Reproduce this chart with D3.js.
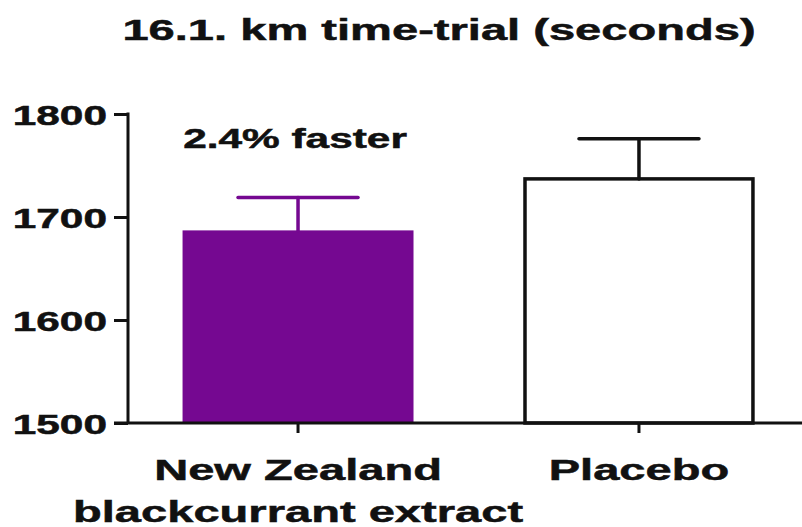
<!DOCTYPE html>
<html>
<head>
<meta charset="utf-8">
<script src="https://cdn.jsdelivr.net/npm/d3@7"></script>
<style>
  html, body { margin: 0; padding: 0; background: #fff; }
  svg { display: block; }
  text { font-family: "Liberation Sans", Arial, Helvetica, sans-serif; font-weight: bold; fill: #111; stroke: #111; stroke-width: 0.5px; }
</style>
</head>
<body>
<svg id="chart" width="802" height="527"></svg>
<script>
// Time-trial results: group means (seconds) with upper error (SEM)
const groups = ["New Zealand|blackcurrant extract", "Placebo"];
const means = [1687, 1737];
const upperErrors = [32, 39];
const yTicks = [1500, 1600, 1700, 1800];
const titleText = "16.1. km time-trial (seconds)";
const noteText = "2.4% faster";
const noteValue = 1767;

const W = 802, H = 527;
const STRETCH = 1.57;            // wide, condensed-height lettering
const INK = "#111";
const PURPLE = "#750891";
const fills = [PURPLE, "#ffffff"];
const strokes = [PURPLE, INK];

const svg = d3.select("#chart");

const x = d3.scaleBand()
  .domain(groups)
  .range([128, 809])
  .paddingInner(0.3226)
  .paddingOuter(0.16);

const y = d3.scaleLinear()
  .domain([1500, 1800])
  .range([423, 114]);

function stretchedText(sel, tx, ty, anchor, size, str) {
  return sel.append("text")
    .attr("transform", `translate(${tx},${ty}) scale(${STRETCH},1)`)
    .attr("text-anchor", anchor)
    .style("font-size", size + "px")
    .text(str);
}

// Title
stretchedText(svg, 439, 40, "middle", 30, titleText);

// Bars
const data = groups.map((g, i) => ({ g, m: means[i], e: upperErrors[i], i }));

svg.append("g").selectAll("rect")
  .data(data)
  .join("rect")
  .attr("x", d => x(d.g) + (d.i === 1 ? 1.5 : 0))
  .attr("width", d => x.bandwidth() - (d.i === 1 ? 3 : 0))
  .attr("y", d => y(d.m))
  .attr("height", d => y(1500) - y(d.m))
  .attr("fill", d => fills[d.i])
  .attr("stroke", d => d.i === 1 ? strokes[d.i] : "none")
  .attr("stroke-width", 3.5);

// Upper error bars
const err = svg.append("g").selectAll("g")
  .data(data)
  .join("g")
  .attr("stroke", d => strokes[d.i])
  .attr("stroke-width", 3.5)
  .attr("stroke-linecap", "round");

err.append("line")
  .attr("x1", d => x(d.g) + x.bandwidth() / 2)
  .attr("x2", d => x(d.g) + x.bandwidth() / 2)
  .attr("y1", d => y(d.m))
  .attr("y2", d => y(d.m + d.e));

err.append("line")
  .attr("x1", d => x(d.g) + x.bandwidth() / 2 - 60)
  .attr("x2", d => x(d.g) + x.bandwidth() / 2 + 60)
  .attr("y1", d => y(d.m + d.e))
  .attr("y2", d => y(d.m + d.e));

// Y axis
const yAxis = svg.append("g")
  .attr("transform", "translate(128,0)")
  .call(d3.axisLeft(y).tickValues(yTicks).tickSize(14).tickSizeOuter(0).tickFormat(d3.format("d")));
yAxis.select(".domain").remove();
yAxis.selectAll(".tick line").attr("stroke", INK).attr("stroke-width", 3);
yAxis.selectAll(".tick text")
  .attr("x", null).attr("dy", null)
  .attr("dominant-baseline", "central")
  .attr("transform", `translate(-21,1) scale(${STRETCH},1)`)
  .style("font-size", "27px")
  .attr("fill", INK);

svg.append("line")
  .attr("x1", 128).attr("x2", 128)
  .attr("y1", y(1800) - 1.5).attr("y2", y(1500))
  .attr("stroke", INK).attr("stroke-width", 3);

// X axis
const xAxis = svg.append("g")
  .attr("transform", `translate(0,${y(1500)})`)
  .call(d3.axisBottom(x).tickSize(10).tickSizeOuter(0).tickFormat(""));
xAxis.select(".domain").remove();
xAxis.selectAll(".tick line").attr("stroke", INK).attr("stroke-width", 3);

svg.append("line")
  .attr("x1", 114).attr("x2", W)
  .attr("y1", y(1500)).attr("y2", y(1500))
  .attr("stroke", INK).attr("stroke-width", 3);

// Category labels (two lines where split)
groups.forEach(g => {
  const cx = x(g) + x.bandwidth() / 2;
  g.split("|").forEach((line, k) => {
    stretchedText(svg, cx, 480 + k * 42, "middle", 30, line);
  });
});

// Annotation above the extract bar
stretchedText(svg, x(groups[0]) + x.bandwidth() / 2 - 3, y(noteValue), "middle", 27, noteText);
</script>
</body>
</html>
